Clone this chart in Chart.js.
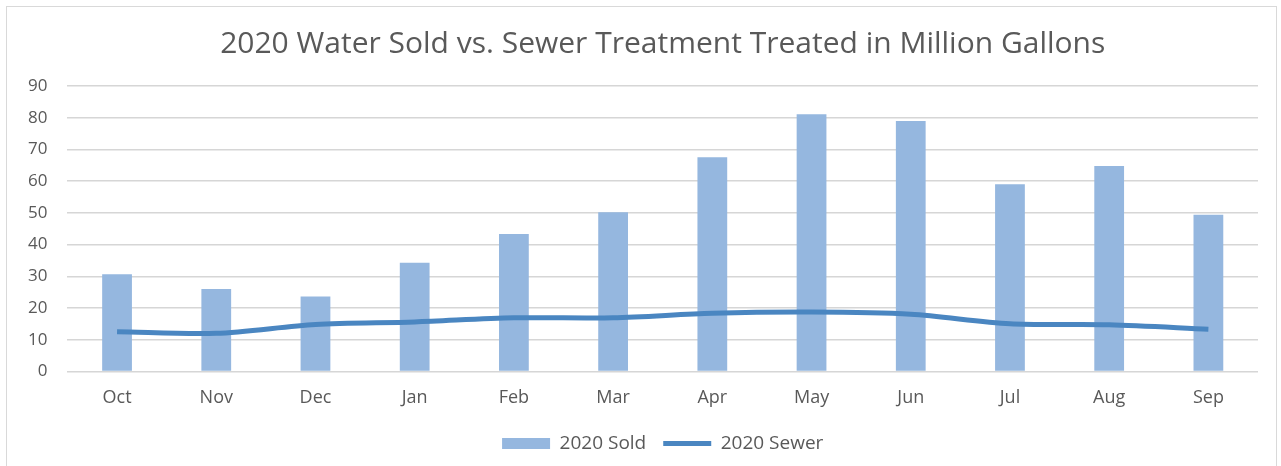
<!DOCTYPE html>
<html>
<head>
<meta charset="utf-8">
<script src="https://cdn.jsdelivr.net/npm/chart.js@4"></script>
<style>
  body { margin: 0; background: #fff; }
  #frame { position: absolute; left: 6px; top: 6px; width: 1269px; height: 470px; border: 1px solid #d9d9d9; }
  #wrap { position: absolute; left: 0; top: 0; width: 1281px; height: 466px; }
</style>
</head>
<body>
<div id="frame"></div>
<div id="wrap"><canvas id="myChart"></canvas></div>
<script>
const months = ['Oct', 'Nov', 'Dec', 'Jan', 'Feb', 'Mar', 'Apr', 'May', 'Jun', 'Jul', 'Aug', 'Sep'];
const sold = [30.6, 26.0, 23.6, 34.3, 43.3, 50.2, 67.5, 81.1, 79.0, 59.0, 64.8, 49.4];
const sewer = [12.5, 12.0, 14.8, 15.6, 16.9, 16.9, 18.3, 18.7, 18.0, 15.0, 14.7, 13.3];
const yMin = 0;
const yMax = 90;
const yStep = 10;

const font = 'Open Sans';
const textColor = '#595959';

const createChart = () => {
  const ctx = document.getElementById('myChart');

  new Chart(ctx, {
    type: 'bar',
    data: {
      labels: months,
      datasets: [{
        type: 'line',
        label: '2020 Sewer',
        data: sewer,
        borderColor: '#4a86c1',
        backgroundColor: '#4a86c1',
        borderWidth: 5,
        pointRadius: 0,
        tension: 0.3,
        order: 0
      }, {
        label: '2020 Sold',
        data: sold,
        backgroundColor: '#95b7df',
        borderWidth: 0,
        barPercentage: 0.3,
        categoryPercentage: 1,
        order: 1
      }]
    },
    options: {
      responsive: true,
      maintainAspectRatio: false,
      animation: false,
      layout: { padding: { top: 21, left: 8, right: 23, bottom: 3 } },
      plugins: {
        title: {
          display: true,
          fullSize: false,
          text: '2020 Water Sold vs. Sewer Treatment Treated in Million Gallons',
          color: textColor,
          font: { family: font, size: 30, weight: 'normal' },
          padding: { top: 5, bottom: 24 }
        },
        legend: {
          position: 'bottom',
          fullSize: false,
          reverse: true,
          labels: {
            color: textColor,
            font: { family: font, size: 19 },
            usePointStyle: true,
            pointStyleWidth: 48,
            boxHeight: 11,
            padding: 17,
            generateLabels: (chart) => {
              const items = Chart.defaults.plugins.legend.labels.generateLabels(chart);
              items.forEach(it => {
                if (it.datasetIndex === 0) {
                  it.pointStyle = 'line';
                  it.lineWidth = 5;
                  it.strokeStyle = '#4a86c1';
                } else {
                  it.pointStyle = 'rect';
                  it.lineWidth = 0;
                }
              });
              return items;
            }
          }
        },
        tooltip: { enabled: false }
      },
      scales: {
        x: {
          grid: { display: false },
          border: { display: false },
          ticks: { color: textColor, font: { family: font, size: 18 }, padding: 8 }
        },
        y: {
          min: yMin,
          max: yMax,
          grid: { color: '#d6d6d6', lineWidth: 1.5, drawTicks: false },
          border: { display: false },
          ticks: { stepSize: yStep, color: textColor, font: { family: font, size: 17 }, padding: 20 }
        }
      }
    }
  });
}

createChart();
</script>
</body>
</html>
